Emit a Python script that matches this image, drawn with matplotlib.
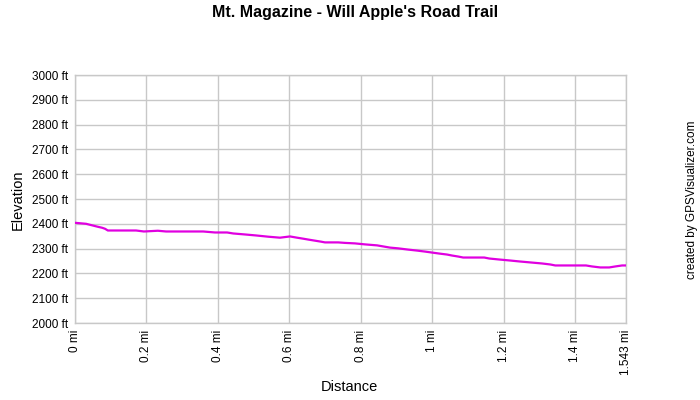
import matplotlib
matplotlib.use("Agg")
import matplotlib.pyplot as plt

plt.rcParams['font.family'] = ['Liberation Sans', 'DejaVu Sans']

distance_mi = [0.000, 0.031, 0.042, 0.053, 0.064, 0.076, 0.084, 0.092, 0.171, 0.193,
               0.232, 0.255, 0.359, 0.392, 0.426, 0.443, 0.476, 0.507, 0.541, 0.574,
               0.602, 0.622, 0.639, 0.655, 0.672, 0.689, 0.700, 0.737, 0.756, 0.784,
               0.812, 0.846, 0.866, 0.882, 0.905, 0.933, 0.958, 0.980, 1.000, 1.020,
               1.042, 1.056, 1.073, 1.087, 1.146, 1.160, 1.188, 1.218, 1.246, 1.277,
               1.308, 1.331, 1.345, 1.431, 1.448, 1.471, 1.496, 1.513, 1.532, 1.543]
elevation_ft = [2404, 2400, 2396, 2392, 2388, 2384, 2380, 2373, 2373, 2369,
                2372, 2369, 2369, 2365, 2365, 2361, 2357, 2353, 2348, 2344,
                2349, 2344, 2340, 2336, 2332, 2328, 2325, 2325, 2323, 2321,
                2317, 2313, 2308, 2304, 2301, 2296, 2292, 2288, 2284, 2280,
                2276, 2272, 2268, 2264, 2264, 2260, 2256, 2252, 2248, 2244,
                2240, 2236, 2232, 2232, 2228, 2224, 2224, 2228, 2232, 2232]

x_ticks = [0, 0.2, 0.4, 0.6, 0.8, 1.0, 1.2, 1.4, 1.543]
x_tick_labels = ["0 mi", "0.2 mi", "0.4 mi", "0.6 mi", "0.8 mi", "1 mi", "1.2 mi", "1.4 mi", "1.543 mi"]
y_ticks = list(range(2000, 3001, 100))
y_tick_labels = [f"{v} ft" for v in y_ticks]

title = "Mt. Magazine - Will Apple's Road Trail"

fig = plt.figure(figsize=(7, 4), dpi=100)
ax = fig.add_axes([75/700, 1-323/400, (626-75)/700, (323-75)/400])

ax.plot(distance_mi, elevation_ft, color='#E000E0', linewidth=1.6, zorder=3)

ax.set_xlim(0, 1.543)
ax.set_ylim(2000, 3000)
ax.set_xticks(x_ticks)
ax.set_xticklabels(x_tick_labels, rotation=90, fontsize=8.5)
ax.set_yticks(y_ticks)
ax.set_yticklabels(y_tick_labels, fontsize=8.5)
ax.tick_params(length=0, pad=5)
ax.grid(True, color='#c8c8c8', linewidth=1)
for s in ax.spines.values():
    s.set_color('#c8c8c8')
    s.set_linewidth(1)

fig.text(355/700, 1-12/400, title, ha='center', va='center', fontsize=11.5, fontweight='bold')
fig.text(18/700, 1-200/400, "Elevation", rotation=90, ha='center', va='center', fontsize=10.5)
fig.text(349/700, 1-387/400, "Distance", ha='center', va='center', fontsize=10.5)
fig.text(692/700, 1-200/400, "created by GPSVisualizer.com", rotation=90, ha='center', va='center', fontsize=8.5)

fig.savefig("out.png", dpi=100)
